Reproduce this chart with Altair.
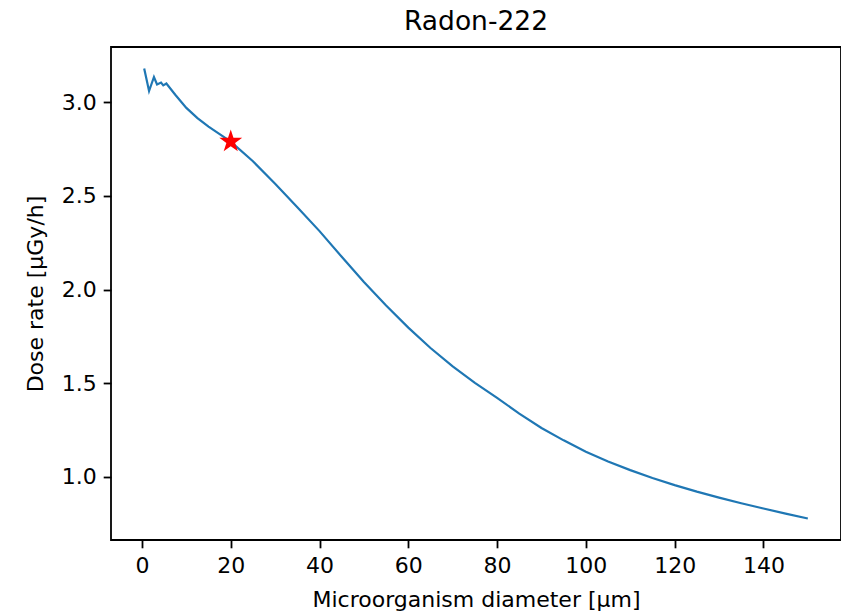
import altair as alt
import pandas as pd

diameter = [0.5, 1.6, 2.7, 3.4, 4.3, 4.8, 5.5, 7.5, 10, 12.5, 15, 17.5, 20, 25, 30, 35, 40, 45, 50,
            55, 60, 65, 70, 75, 80, 85, 90, 95, 100, 105, 110, 115, 120, 125, 130, 135, 140, 145, 150]
dose_rate = [3.18, 3.06, 3.135, 3.095, 3.105, 3.09, 3.10, 3.04, 2.97, 2.915, 2.87, 2.83, 2.79,
             2.685, 2.565, 2.44, 2.312, 2.175, 2.04, 1.915, 1.797, 1.688, 1.59, 1.502, 1.422, 1.338,
             1.261, 1.195, 1.134, 1.082, 1.036, 0.994, 0.956, 0.921, 0.889, 0.859, 0.831, 0.804, 0.778]
marker_diameter = [20]
marker_dose = [2.79]
x_ticks = [0, 20, 40, 60, 80, 100, 120, 140]
y_ticks = [1.0, 1.5, 2.0, 2.5, 3.0]

STAR = ("M0,-1 L0.2245,-0.309 L0.951,-0.309 L0.363,0.118 L0.588,0.809 L0,0.382 "
        "L-0.588,0.809 L-0.363,0.118 L-0.951,-0.309 L-0.2245,-0.309 Z")

df = pd.DataFrame({"d": diameter, "r": dose_rate})
mk = pd.DataFrame({"d": marker_diameter, "r": marker_dose})

xs = alt.Scale(domain=[-6.975, 157.475], nice=False, zero=False)
ys = alt.Scale(domain=[0.663, 3.295], nice=False, zero=False)

line = alt.Chart(df).mark_line(color="#1f77b4", strokeWidth=2.2, clip=True).encode(
    x=alt.X("d:Q", scale=xs,
            axis=alt.Axis(values=x_ticks, title="Microorganism diameter [µm]", format="d",
                          labelPadding=8, titlePadding=13)),
    y=alt.Y("r:Q", scale=ys,
            axis=alt.Axis(values=y_ticks, title="Dose rate [µGy/h]", format=".1f",
                          titlePadding=14)),
)
star = alt.Chart(mk).mark_point(shape=STAR, filled=True, color="red", size=580, opacity=1).encode(
    x=alt.X("d:Q", scale=xs),
    y=alt.Y("r:Q", scale=ys),
)

chart = alt.layer(line, star).properties(
    width=730, height=493,
    title=alt.TitleParams("Radon-222", fontSize=26.5, font="DejaVu Sans", fontWeight="normal",
                          color="black", offset=12),
    autosize=alt.AutoSizeParams(type="none"),
    padding={"left": 111, "top": 47, "right": 0, "bottom": 71},
).configure_view(stroke="black", strokeWidth=1.8).configure_axis(
    domain=False, grid=False, tickColor="black", tickSize=7.8, tickWidth=1.8,
    labelPadding=7, labelFontSize=22, labelFont="DejaVu Sans", labelColor="black",
    titleFontSize=22, titleFont="DejaVu Sans", titleFontWeight="normal", titleColor="black",
)

chart.save("out.html", embed_options={"renderer": "svg", "actions": False})
